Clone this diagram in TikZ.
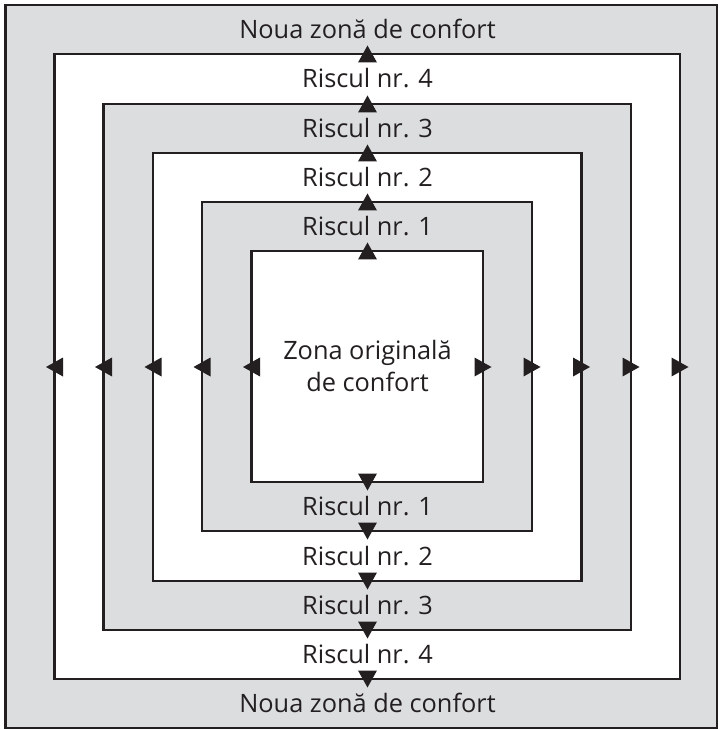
\documentclass[tikz,border=0pt]{standalone}
\usepackage{fontspec}
\setmainfont{Open Sans}
\definecolor{band}{RGB}{220,221,223}
\definecolor{ink}{RGB}{35,31,32}
\newcommand\arrowtri[3]{\fill[ink,shift={(#1,#2)},rotate=#3] (-8.5,-9.5) -- (8.5,0) -- (-8.5,9.5) -- cycle;}
\begin{document}
\begin{tikzpicture}[x=0.75pt,y=-0.75pt,
  frame/.style={draw=ink,line width=2pt},
  lbl/.style={text=ink,font=\fontsize{19}{24}\selectfont,inner sep=0pt,anchor=base}]
\useasboundingbox (0,0) rectangle (721,730);
% nested zones
\draw[frame,fill=band]  (5.5,5)    rectangle (717,728);
\draw[frame,fill=white] (54.5,54)  rectangle (680,679);
\draw[frame,fill=band]  (103.5,104) rectangle (631,630);
\draw[frame,fill=white] (153,153)  rectangle (581.5,581);
\draw[frame,fill=band]  (202,202)  rectangle (532,531);
\draw[frame,fill=white] (251.5,251) rectangle (483,482);
% labels
\node[lbl] (ntop) at (367.5,38.5) {Noua zonă de confort};
\node[lbl] (r4t)  at (367.5,88)   {Riscul nr. 4};
\node[lbl] (r3t)  at (367.5,137.5) {Riscul nr. 3};
\node[lbl] (r2t)  at (367.5,186.5) {Riscul nr. 2};
\node[lbl] (r1t)  at (367.5,235.5) {Riscul nr. 1};
\node[lbl] (r1b)  at (367.5,515.5) {Riscul nr. 1};
\node[lbl] (r2b)  at (367.5,565)   {Riscul nr. 2};
\node[lbl] (r3b)  at (367.5,614.5) {Riscul nr. 3};
\node[lbl] (r4b)  at (367.5,663.5) {Riscul nr. 4};
\node[lbl] (nbot) at (367.5,712.5) {Noua zonă de confort};
\node[lbl] (orig1) at (367.5,359) {Zona originală};
\node[lbl] (orig2) at (367.5,391) {de confort};
% arrowheads on the borders
\foreach \yy in {54,104,153,202,251} {\arrowtri{367.5}{\yy}{90}}
\foreach \yy in {482,531,581,630,679} {\arrowtri{367.5}{\yy}{270}}
\foreach \xx in {54.5,103.5,153,202,251.5} {\arrowtri{\xx}{367}{180}}
\foreach \xx in {483,532,581.5,631,680} {\arrowtri{\xx}{367}{0}}
\end{tikzpicture}
\end{document}
